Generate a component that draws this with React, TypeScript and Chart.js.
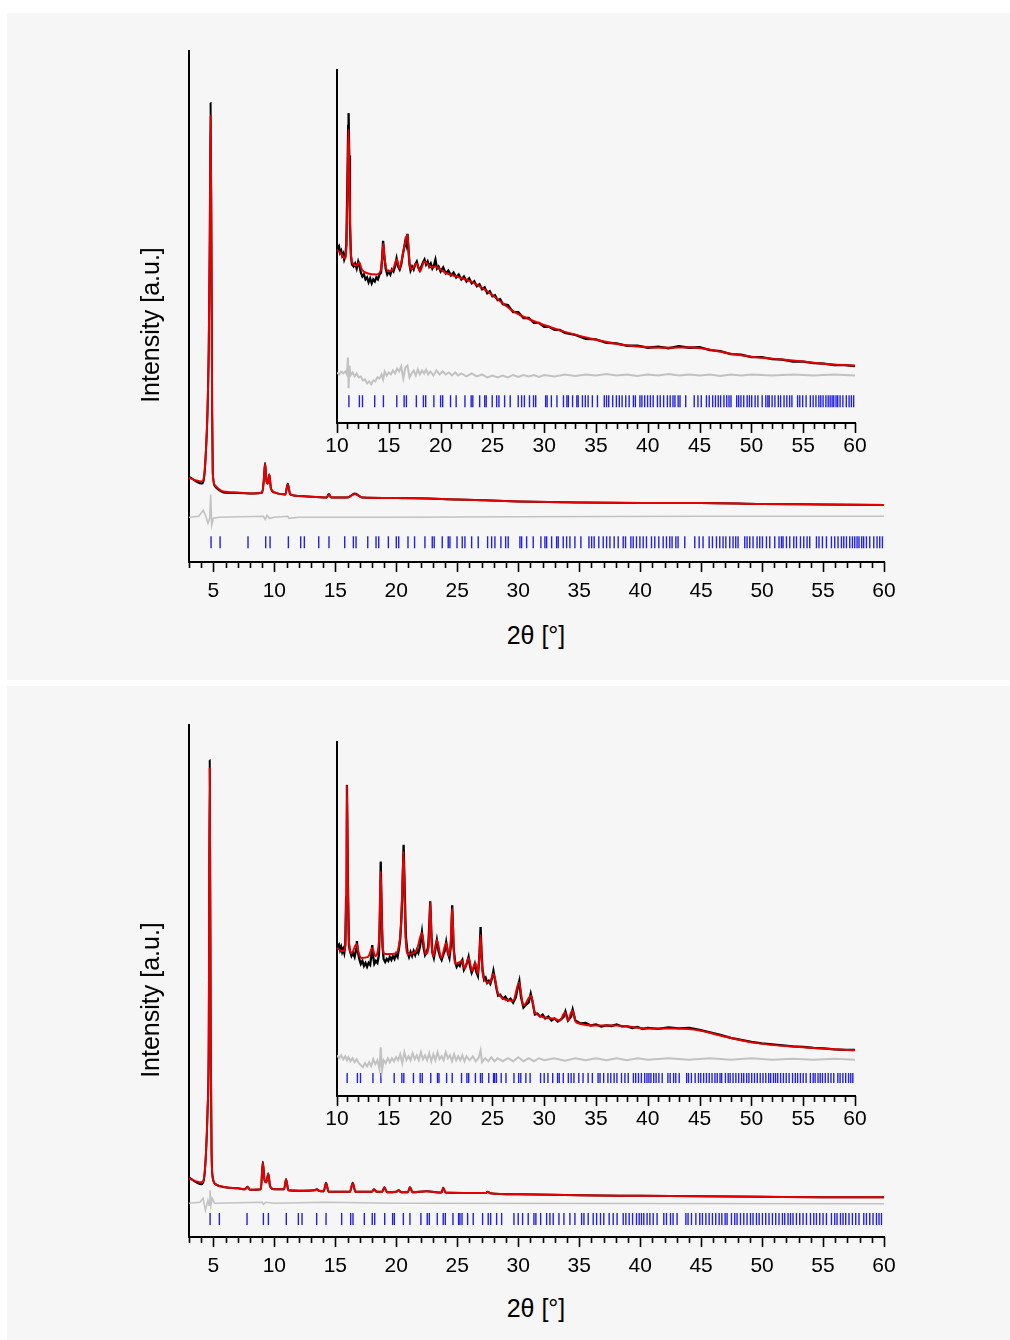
import React, { useEffect, useRef } from "react";
import { Chart, registerables } from "chart.js";

Chart.register(...registerables);

type Pt = [number, number];

// ---------------- DATA ----------------
const mainTickLabels = [5, 10, 15, 20, 25, 30, 35, 40, 45, 50, 55, 60];
const insetTickLabels = [10, 15, 20, 25, 30, 35, 40, 45, 50, 55, 60];
const yTitle = "Intensity [a.u.]";
const xTitle = "2θ [°]";

// Panel 1 (top), main plot
const p1MainCalc: Pt[] = [
  [3.0, 85], [3.6, 82], [4.05, 81], [4.26, 89], [4.4, 115], [4.51, 149], [4.62, 215], [4.7, 315],
  [4.77, 449], [4.84, 315], [4.9, 149], [4.95, 89], [5.14, 77], [5.5, 73], [5.82, 71], [7, 70],
  [8.28, 69], [9.0, 70], [9.12, 80], [9.24, 99], [9.36, 81], [9.46, 79], [9.59, 88], [9.72, 74],
  [10.0, 70], [10.9, 68], [11.1, 78], [11.3, 68], [12, 66.5], [14.3, 65], [14.47, 68], [14.65, 65],
  [16.0, 65], [16.6, 68.5], [17.2, 65], [20, 64.5], [25, 63], [30, 61], [35, 60], [40, 59.5],
  [45, 59.5], [50, 58.5], [55, 58], [60, 57.5],
];
const p1MainObs: Pt[] = [
  [3.0, 86], [3.6, 81], [4.05, 79], [4.26, 87], [4.4, 114], [4.51, 148], [4.62, 214], [4.7, 320],
  [4.77, 462], [4.84, 320], [4.9, 150], [4.95, 90], [5.14, 76], [5.5, 72], [5.82, 70], [7, 69.5],
  [8.28, 69], [9.0, 70], [9.12, 80], [9.24, 100], [9.36, 81], [9.46, 79], [9.59, 88], [9.72, 74],
  [10.0, 70], [10.9, 68], [11.1, 79], [11.3, 68], [12, 66.5], [14.3, 65], [14.47, 68.5], [14.65, 65],
  [16.0, 65], [16.6, 69], [17.2, 65], [20, 64.5], [25, 63], [30, 61], [35, 60], [40, 59.5],
  [45, 59.5], [50, 58.5], [55, 58], [60, 57.5],
];
const p1MainDiff: Pt[] = [
  [3, 45], [3.8, 46], [4.17, 52], [4.35, 47], [4.56, 39], [4.7, 44], [4.78, 68], [4.86, 37],
  [5.0, 44], [5.5, 45], [9.1, 46], [9.25, 43], [9.4, 47], [9.6, 44], [10, 45], [11.1, 46],
  [11.2, 44], [12, 45], [20, 45], [30, 45.5], [45, 46], [60, 46],
];

// Panel 1 inset
const p1InsetCalc: Pt[] = [
  [10.0, 175], [10.4, 171], [10.77, 166], [10.95, 193], [11.05, 263], [11.12, 296], [11.2, 253],
  [11.3, 183], [11.45, 163], [11.9, 159], [12.15, 162], [12.4, 155], [13.0, 151], [13.8, 150],
  [14.25, 155], [14.4, 173], [14.48, 181], [14.6, 165], [14.96, 153], [15.4, 155], [15.77, 165],
  [16.05, 156], [16.4, 173], [16.6, 183], [16.8, 190], [17.0, 161], [17.15, 155], [17.7, 161],
  [18.0, 153], [18.44, 163], [18.8, 160], [19.1, 157], [19.5, 158], [20.0, 155], [20.6, 151],
  [21.5, 148], [22.9, 143], [24.5, 133], [25.5, 125], [27, 113], [28.5, 105], [30, 99], [32, 92],
  [35, 84], [37.5, 79], [40, 76.5], [42, 76], [44, 76.5], [46, 74], [48, 70], [50, 67], [52, 65],
  [55, 62], [58, 59], [60, 58],
];
const p1InsetObs: Pt[] = [
  [10.0, 181], [10.1, 176], [10.2, 178], [10.3, 172], [10.4, 174], [10.5, 169], [10.6, 171],
  [10.7, 165], [10.8, 168], [10.9, 180], [11.0, 240], [11.08, 300], [11.12, 313], [11.18, 270],
  [11.25, 200], [11.35, 168], [11.45, 160], [11.6, 158], [11.75, 161], [11.9, 156], [12.05, 163],
  [12.15, 160], [12.3, 152], [12.45, 148], [12.6, 150], [12.75, 145], [12.9, 147], [13.05, 142],
  [13.2, 146], [13.35, 141], [13.5, 145], [13.65, 143], [13.8, 147], [13.95, 145], [14.1, 150],
  [14.25, 152], [14.35, 165], [14.45, 184], [14.55, 170], [14.7, 156], [14.85, 150], [15.0, 153],
  [15.15, 150], [15.3, 155], [15.45, 153], [15.6, 158], [15.75, 166], [15.9, 158], [16.05, 155],
  [16.2, 160], [16.35, 170], [16.5, 178], [16.6, 184], [16.7, 180], [16.8, 191], [16.9, 175],
  [17.0, 160], [17.1, 154], [17.25, 158], [17.4, 155], [17.55, 160], [17.7, 163], [17.85, 157],
  [18.0, 154], [18.15, 158], [18.3, 162], [18.45, 165], [18.6, 160], [18.75, 163], [18.9, 158],
  [19.05, 161], [19.2, 156], [19.35, 159], [19.5, 165], [19.65, 156], [19.8, 158], [20.0, 153],
  [20.25, 157], [20.5, 151], [20.75, 154], [21.0, 149], [21.25, 152], [21.5, 147], [21.75, 150],
  [22.0, 145], [22.25, 148], [22.5, 143], [22.75, 146], [23.0, 141], [23.25, 143], [23.5, 138],
  [23.75, 140], [24.0, 135], [24.25, 137], [24.5, 131], [24.75, 133], [25.0, 128], [25.25, 129],
  [25.5, 124], [25.75, 125], [26.0, 120], [26.5, 119], [27.0, 112], [27.5, 112], [28.0, 106],
  [28.5, 106], [29.0, 101], [29.5, 101], [30.0, 97], [30.5, 97], [31.0, 94], [31.5, 94], [32.0, 91],
  [33, 89], [34, 85], [35, 84.5], [36, 81], [37, 80.5], [38, 78], [39, 78], [40, 76], [41, 77],
  [42, 75.5], [43, 77.5], [44, 76], [45, 76.5], [46, 73.5], [47, 72.5], [48, 69.5], [49, 69],
  [50, 66.5], [51, 66.5], [52, 64.5], [53, 64], [54, 62], [55, 62], [56, 60.5], [57, 60],
  [58, 58.5], [59, 58.5], [60, 57.5],
];
const p1InsetDiff: Pt[] = [
  [10.0, 51], [10.2, 49], [10.4, 52], [10.6, 50], [10.8, 52], [10.95, 49], [11.05, 66], [11.12, 35],
  [11.2, 58], [11.3, 48], [11.5, 51], [11.7, 47], [11.9, 50], [12.1, 46], [12.3, 47], [12.5, 43],
  [12.7, 44], [12.9, 40], [13.1, 42], [13.3, 39], [13.5, 43], [13.7, 42], [13.9, 46], [14.1, 45],
  [14.3, 49], [14.45, 44], [14.6, 52], [14.8, 48], [15.0, 51], [15.2, 49], [15.4, 53], [15.6, 50],
  [15.8, 55], [16.0, 52], [16.2, 57], [16.4, 45], [16.6, 56], [16.8, 58], [17.0, 46], [17.2, 50],
  [17.4, 53], [17.6, 48], [17.8, 54], [18.0, 49], [18.2, 53], [18.4, 50], [18.6, 54], [18.8, 49],
  [19.0, 52], [19.3, 48], [19.6, 53], [19.9, 49], [20.2, 52], [20.5, 49], [20.8, 51], [21.1, 48],
  [21.4, 51], [21.7, 48], [22, 50], [22.5, 47], [23, 50], [23.5, 47], [24, 49], [24.5, 46],
  [25, 48], [25.5, 46], [26, 48], [26.5, 46], [27, 48.5], [27.5, 46.5], [28, 48.5], [28.5, 47],
  [29, 48.5], [29.5, 46.5], [30, 48.5], [31, 47], [32, 49], [33, 47.5], [34, 49], [35, 48],
  [36, 49.5], [37, 48], [38, 49], [39, 47.5], [40, 49], [41, 48], [42, 49.5], [43, 48], [44, 49],
  [45, 48], [46, 49], [47, 47.5], [48, 49], [49, 48], [50, 49], [52, 48], [54, 49], [56, 48],
  [58, 49], [60, 48],
];

const p1Reflections = [
  4.81, 5.55, 7.84, 9.29, 9.65, 11.15, 12.16, 12.46, 13.64, 14.48, 15.77, 16.48, 16.7, 17.66, 18.34,
  18.56, 19.35, 20.0, 20.2, 20.96, 21.5, 22.35, 22.95, 23.11, 23.77, 24.26, 24.4, 24.98, 25.41,
  25.63, 26.18, 26.72, 27.49, 27.82, 28.09, 28.58, 28.97, 29.18, 30.14, 30.28, 30.69, 31.23, 31.86,
  32.19, 32.33, 32.74, 33.15, 33.28, 33.69, 33.97, 34.24, 34.65, 35.14, 35.8, 36.02, 36.23, 36.61,
  36.97, 37.25, 37.52, 37.87, 38.2, 38.61, 38.8, 39.24, 39.43, 39.7, 39.98, 40.25, 40.52, 40.93,
  41.2, 41.53, 41.89, 42.16, 42.43, 42.62, 42.93, 43.11, 43.66, 44.48, 44.84, 45.16, 45.66, 45.93,
  46.26, 46.53, 46.8, 47.03, 47.35, 47.62, 47.84, 48.03, 48.58, 48.77, 48.99, 49.26, 49.59, 49.81,
  50.03, 50.36, 50.63, 51.04, 51.39, 51.59, 51.72, 52.0, 52.27, 52.6, 52.82, 53.15, 53.42, 53.69,
  53.91, 54.46, 54.67, 54.95, 55.28, 55.69, 55.96, 56.23, 56.51, 56.7, 56.92, 57.19, 57.41, 57.6,
  57.79, 57.95, 58.17, 58.33, 58.56, 58.83, 59.16, 59.43, 59.65, 59.87,
];

// Panel 2 (bottom), main plot
const p2MainCalc: Pt[] = [
  [3.0, 59], [3.6, 56], [4.05, 55], [4.25, 61], [4.4, 87], [4.52, 127], [4.62, 197], [4.7, 472],
  [4.78, 197], [4.85, 87], [4.95, 59], [5.2, 53], [6, 50], [7, 49], [7.6, 48], [7.79, 50.5],
  [8.0, 47.5], [8.9, 48], [9.05, 75], [9.2, 57], [9.35, 55], [9.5, 64], [9.65, 51], [10, 48],
  [10.8, 48], [10.96, 58], [11.15, 47], [12, 46.5], [13.3, 47], [13.47, 48], [13.65, 46.5],
  [14.05, 46], [14.24, 54], [14.45, 45.5], [16.2, 45.5], [16.43, 54], [16.65, 45.5], [18.0, 45.5],
  [18.17, 48], [18.4, 45.5], [18.85, 45.5], [19.02, 50], [19.25, 45], [20.0, 45.5], [20.2, 47],
  [20.4, 45], [20.95, 45], [21.12, 50], [21.35, 45], [22.5, 46], [23.7, 44.7], [23.85, 49],
  [24.05, 44.7], [25.5, 44.3], [27.35, 44.3], [27.5, 45.5], [27.7, 44], [30, 43], [35, 42],
  [40, 41.5], [45, 41], [50, 40.5], [55, 40], [60, 40],
];
const p2MainObs: Pt[] = [
  [3.0, 60], [3.6, 55], [4.05, 53], [4.25, 60], [4.4, 86], [4.52, 126], [4.62, 198], [4.7, 480],
  [4.78, 198], [4.85, 88], [4.95, 60], [5.2, 53], [6, 50], [7, 49], [7.6, 48], [7.79, 50.5],
  [8.0, 47.5], [8.9, 48], [9.05, 76], [9.2, 57], [9.35, 55], [9.5, 64], [9.65, 51], [10, 48],
  [10.8, 48], [10.96, 58.5], [11.15, 47], [12, 46.5], [13.3, 47], [13.47, 48], [13.65, 46.5],
  [14.05, 46], [14.24, 54.5], [14.45, 45.5], [16.2, 45.5], [16.43, 54.5], [16.65, 45.5],
  [18.0, 45.5], [18.17, 48], [18.4, 45.5], [18.85, 45.5], [19.02, 50], [19.25, 45], [20.0, 45.5],
  [20.2, 47], [20.4, 45], [20.95, 45], [21.12, 50], [21.35, 45], [22.5, 46], [23.7, 44.7],
  [23.85, 49.5], [24.05, 44.7], [25.5, 44.3], [27.35, 44.3], [27.5, 45.5], [27.7, 44], [30, 43],
  [35, 42], [40, 41.5], [45, 41], [50, 40.5], [55, 40], [60, 40],
];
const p2MainDiff: Pt[] = [
  [3, 34], [3.9, 35], [4.15, 39], [4.35, 27], [4.55, 37], [4.65, 32], [4.72, 47], [4.8, 32],
  [4.9, 39], [5.1, 34], [9, 35], [9.1, 33], [9.3, 35], [10, 34], [14.2, 35], [20, 34], [60, 33.5],
];

// Panel 2 inset
const p2InsetCalc: Pt[] = [
  [10.0, 149], [10.5, 146], [10.75, 146], [10.88, 196], [10.96, 313], [11.05, 216], [11.15, 156],
  [11.4, 144], [11.9, 153], [12.1, 144], [12.35, 139], [13.0, 140], [13.4, 149], [13.7, 141],
  [14.05, 156], [14.22, 226], [14.38, 156], [14.6, 143], [15.3, 143], [15.73, 144], [16.05, 156],
  [16.2, 176], [16.43, 246], [16.6, 166], [16.85, 143], [17.66, 146], [18.2, 164], [18.55, 143],
  [18.85, 151], [19.0, 195], [19.15, 151], [19.3, 141], [19.64, 157], [20.06, 139], [20.54, 154],
  [20.8, 141], [20.98, 156], [21.12, 189], [21.28, 146], [21.5, 133], [22.08, 136], [22.3, 128],
  [22.7, 139], [23.05, 126], [23.37, 134], [23.6, 123], [23.75, 141], [23.86, 162], [24.0, 131],
  [24.15, 119], [24.73, 114], [25.1, 123], [25.55, 103], [27.0, 96], [27.57, 114], [27.99, 91],
  [28.73, 101], [29.1, 84], [30.9, 78], [31.5, 76], [32.0, 84], [32.3, 76], [32.7, 86], [33.1, 74],
  [35, 71], [37, 71], [40, 68], [43, 68], [45, 66], [47, 61], [50, 54], [55, 49], [60, 46],
];
const p2InsetObs: Pt[] = [
  [10.0, 154], [10.1, 150], [10.2, 152], [10.3, 147], [10.4, 150], [10.5, 145], [10.6, 148],
  [10.7, 144], [10.8, 152], [10.88, 200], [10.96, 313], [11.05, 214], [11.15, 152], [11.25, 146],
  [11.4, 141], [11.55, 144], [11.7, 140], [11.85, 148], [11.92, 156], [12.0, 146], [12.15, 138],
  [12.3, 133], [12.45, 136], [12.6, 131], [12.75, 134], [12.9, 130], [13.05, 134], [13.2, 132],
  [13.3, 140], [13.4, 152], [13.5, 140], [13.6, 133], [13.75, 136], [13.9, 134], [14.05, 142],
  [14.15, 180], [14.22, 236], [14.3, 190], [14.4, 150], [14.5, 138], [14.65, 135], [14.8, 138],
  [14.95, 136], [15.1, 140], [15.25, 137], [15.4, 141], [15.55, 138], [15.7, 143], [15.85, 140],
  [16.0, 150], [16.1, 158], [16.2, 176], [16.3, 200], [16.43, 253], [16.55, 200], [16.65, 160],
  [16.8, 145], [16.95, 140], [17.1, 145], [17.25, 141], [17.4, 146], [17.55, 142], [17.7, 147],
  [17.85, 144], [18.0, 150], [18.2, 165], [18.35, 150], [18.5, 142], [18.65, 145], [18.8, 150],
  [18.9, 170], [19.0, 196], [19.1, 165], [19.2, 145], [19.35, 139], [19.5, 148], [19.64, 157],
  [19.8, 146], [19.95, 140], [20.1, 137], [20.25, 142], [20.4, 146], [20.54, 155], [20.7, 144],
  [20.85, 139], [21.0, 152], [21.12, 192], [21.25, 150], [21.4, 135], [21.55, 130], [21.7, 133],
  [21.85, 131], [22.0, 135], [22.1, 137], [22.25, 127], [22.4, 130], [22.55, 134], [22.7, 140],
  [22.85, 130], [23.0, 124], [23.15, 128], [23.3, 133], [23.45, 125], [23.6, 121], [23.75, 142],
  [23.86, 170], [23.95, 145], [24.05, 127], [24.2, 117], [24.35, 119], [24.5, 114], [24.65, 116],
  [24.8, 113], [24.95, 118], [25.1, 126], [25.25, 117], [25.4, 108], [25.55, 101], [25.75, 102],
  [26.0, 98], [26.25, 100], [26.5, 96], [26.75, 98], [27.0, 94], [27.25, 99], [27.5, 112],
  [27.6, 116], [27.75, 100], [28.0, 89], [28.25, 92], [28.5, 94], [28.7, 103], [28.85, 96],
  [29.1, 82], [29.35, 83], [29.6, 80], [29.85, 82], [30.1, 78], [30.4, 80], [30.7, 76], [31.0, 78],
  [31.3, 75], [31.6, 77], [31.9, 80], [32.05, 85], [32.3, 76], [32.6, 80], [32.75, 87], [33.0, 76],
  [33.5, 73], [34, 73.5], [34.5, 71], [35, 72], [35.5, 70], [36, 71], [36.5, 70.5], [37, 72],
  [37.5, 70], [38, 70], [38.5, 68.5], [39, 69.5], [39.5, 67.5], [40, 68.5], [41, 67.5], [42, 69],
  [43, 68], [44, 68.5], [45, 66.5], [46, 64], [47, 61.5], [48, 58.5], [49, 56.5], [50, 54.5],
  [51, 53], [52, 52], [53, 51], [54, 50], [55, 49.5], [56, 48.5], [57, 48], [58, 47], [59, 46.5],
  [60, 46.5],
];
const p2InsetDiff: Pt[] = [
  [10, 41], [10.2, 38], [10.4, 41], [10.6, 37], [10.8, 40], [10.96, 36], [11.1, 39], [11.3, 35],
  [11.5, 38], [11.7, 34], [11.9, 37], [12.1, 33], [12.3, 31], [12.5, 29], [12.7, 33], [12.9, 30],
  [13.1, 34], [13.3, 30], [13.5, 37], [13.7, 32], [13.9, 36], [14.1, 27], [14.22, 49], [14.35, 26],
  [14.5, 36], [14.7, 33], [14.9, 38], [15.1, 34], [15.3, 38], [15.5, 35], [15.7, 39], [15.9, 36],
  [16.1, 42], [16.3, 33], [16.5, 44], [16.7, 36], [16.9, 40], [17.1, 36], [17.3, 43], [17.5, 37],
  [17.7, 41], [17.9, 36], [18.1, 44], [18.3, 37], [18.5, 41], [18.7, 36], [18.9, 43], [19.1, 35],
  [19.3, 42], [19.5, 36], [19.7, 44], [19.9, 37], [20.1, 40], [20.3, 36], [20.5, 44], [20.7, 38],
  [20.9, 41], [21.1, 35], [21.3, 42], [21.5, 36], [21.7, 40], [21.9, 36], [22.1, 41], [22.3, 35],
  [22.5, 40], [22.8, 36], [23.1, 40], [23.4, 35], [23.7, 39], [23.86, 46], [24, 34], [24.3, 38],
  [24.6, 35], [24.9, 39], [25.2, 35], [25.5, 38], [26, 35], [26.5, 38], [27, 35], [27.5, 39],
  [28, 35], [28.5, 38], [29, 35], [29.5, 38], [30, 36], [31, 38], [32, 35.5], [33, 38], [34, 36],
  [35, 38], [36, 36], [37, 38], [38, 36], [39, 38], [40, 36.5], [42, 38], [44, 36.5], [46, 38],
  [48, 36.5], [50, 38], [52, 36.5], [54, 37.5], [56, 36.5], [58, 37.5], [60, 36.5],
];

const p2Reflections = [
  4.73, 5.49, 7.76, 9.1, 9.51, 10.98, 11.97, 12.27, 13.47, 14.24, 15.52, 16.26, 16.45, 17.38, 18.03,
  18.23, 19.05, 19.7, 19.84, 20.58, 21.12, 22.02, 22.54, 22.71, 23.36, 23.85, 24.02, 24.65, 25.11,
  25.22, 25.39, 25.85, 26.31, 27.08, 27.54, 27.74, 28.23, 28.64, 29.65, 30.0, 30.36, 30.82, 31.29,
  31.45, 31.84, 32.33, 32.6, 32.87, 33.34, 33.75, 34.24, 34.65, 35.2, 35.39, 35.74, 36.15, 36.43,
  36.75, 37.02, 37.46, 37.79, 38.11, 38.61, 38.83, 39.1, 39.38, 39.7, 39.92, 40.11, 40.3, 40.57,
  40.8, 41.07, 41.39, 41.94, 42.16, 42.49, 42.7, 43.03, 43.75, 43.93, 44.21, 44.57, 44.89, 45.11,
  45.39, 45.66, 45.93, 46.2, 46.48, 46.7, 46.97, 47.13, 47.49, 47.76, 47.95, 48.23, 48.5, 48.77,
  49.05, 49.26, 49.54, 49.76, 50.03, 50.3, 50.57, 50.85, 51.12, 51.39, 51.67, 51.86, 52.13, 52.33,
  52.54, 52.82, 53.09, 53.36, 53.64, 53.97, 54.24, 54.46, 54.73, 55.0, 55.28, 55.69, 55.96, 56.15,
  56.43, 56.64, 56.86, 57.13, 57.41, 57.68, 57.95, 58.34, 58.56, 58.83, 59.1, 59.38, 59.59, 59.79,
];

// ---------------- LAYOUT / STYLE ----------------
const FONT = "'Liberation Sans', Arial, Helvetica, sans-serif";
const PAD_L = 34;
const PAD_R = 30;
const PAD_T = 4;
const PAD_B = 4;
const X_AXIS_H = 46;
const RED = "#e60000";
const BLACK = "#000000";
const GREY = "#c2c2c2";
const BLUE = "#2222dd";

type Frame = { left: number; top: number; right: number; bottom: number };
type PlotSpec = {
  frame: Frame;
  xMin: number;
  xMax: number;
  yMax: number;
  labels: number[];
  labelPad: number;
  calc: Pt[];
  obs: Pt[];
  diff: Pt[];
  refl: number[];
  reflLevel: number;
  reflHalf: number;
  obsSmooth: boolean;
  obsWidth: number;
  diffWidth: number;
};

const tickMarksPlugin = {
  id: "tickMarks",
  afterDraw(chart: any) {
    const sx = chart.scales.x;
    const { ctx, chartArea } = chart;
    ctx.save();
    ctx.strokeStyle = "#000";
    ctx.lineWidth = 1.6;
    for (let v = Math.ceil(sx.min); v <= sx.max + 1e-9; v++) {
      const x = Math.round(sx.getPixelForValue(v)) + 0.5;
      const len = v % 5 === 0 ? 10 : 6;
      ctx.beginPath();
      ctx.moveTo(x, chartArea.bottom);
      ctx.lineTo(x, chartArea.bottom + len);
      ctx.stroke();
    }
    ctx.restore();
  },
};

const toXY = (pts: Pt[]) => pts.map(([x, y]) => ({ x, y }));

function buildConfig(s: PlotSpec): any {
  return {
    type: "line",
    data: {
      datasets: [
        {
          data: toXY(s.calc),
          borderColor: RED,
          borderWidth: 2,
          pointRadius: 0,
          cubicInterpolationMode: "monotone",
          fill: false,
        },
        {
          data: toXY(s.obs),
          borderColor: BLACK,
          borderWidth: s.obsWidth,
          pointRadius: 0,
          tension: 0,
          cubicInterpolationMode: s.obsSmooth ? "monotone" : "default",
          fill: false,
        },
        {
          data: toXY(s.diff),
          borderColor: GREY,
          borderWidth: s.diffWidth,
          pointRadius: 0,
          tension: 0,
          fill: false,
        },
        {
          data: s.refl.filter((v) => v >= s.xMin && v <= s.xMax).map((x) => ({ x, y: s.reflLevel })),
          showLine: false,
          pointStyle: "line",
          pointRotation: 90,
          pointRadius: s.reflHalf,
          pointBorderColor: BLUE,
          pointBorderWidth: 1.4,
          borderColor: BLUE,
        },
      ],
    },
    options: {
      responsive: false,
      animation: false,
      devicePixelRatio: 1,
      events: [],
      layout: { padding: { left: PAD_L, right: PAD_R, top: PAD_T, bottom: PAD_B } },
      plugins: { legend: { display: false }, tooltip: { enabled: false } },
      scales: {
        x: {
          type: "linear",
          min: s.xMin,
          max: s.xMax,
          afterFit: (sc: any) => {
            sc.height = X_AXIS_H;
          },
          afterBuildTicks: (sc: any) => {
            sc.ticks = s.labels.map((v) => ({ value: v }));
          },
          grid: { display: true, drawOnChartArea: false, drawTicks: false },
          border: { display: true, color: "#000", width: 2 },
          ticks: {
            color: "#000",
            font: { family: FONT, size: 21 },
            padding: s.labelPad,
            maxRotation: 0,
            autoSkip: false,
            callback: (v: any) => String(v),
          },
        },
        y: {
          type: "linear",
          min: 0,
          max: s.yMax,
          afterFit: (sc: any) => {
            sc.width = 0;
          },
          ticks: { display: false },
          grid: { display: false },
          border: { display: true, color: "#000", width: 2 },
        },
      },
    },
    plugins: [tickMarksPlugin],
  };
}

function Plot({ spec }: { spec: PlotSpec }) {
  const ref = useRef<HTMLCanvasElement>(null);
  const { frame } = spec;
  const w = frame.right - frame.left + PAD_L + PAD_R;
  const h = frame.bottom - frame.top + PAD_T + X_AXIS_H + PAD_B;
  useEffect(() => {
    if (!ref.current) return;
    const chart = new Chart(ref.current, buildConfig(spec));
    return () => chart.destroy();
  }, [spec]);
  return (
    <canvas
      ref={ref}
      width={w}
      height={h}
      style={{ position: "absolute", left: frame.left - PAD_L, top: frame.top - PAD_T, width: w, height: h }}
    />
  );
}

const specs: PlotSpec[] = [
  {
    frame: { left: 189, top: 48, right: 884, bottom: 562 },
    xMin: 3, xMax: 60, yMax: 514, labels: mainTickLabels, labelPad: 17,
    calc: p1MainCalc, obs: p1MainObs, diff: p1MainDiff, refl: p1Reflections,
    reflLevel: 20, reflHalf: 6, obsSmooth: true, obsWidth: 2, diffWidth: 1.6,
  },
  {
    frame: { left: 337, top: 67, right: 855, bottom: 423 },
    xMin: 10, xMax: 60, yMax: 356, labels: insetTickLabels, labelPad: 11,
    calc: p1InsetCalc, obs: p1InsetObs, diff: p1InsetDiff, refl: p1Reflections,
    reflLevel: 22, reflHalf: 6, obsSmooth: false, obsWidth: 2.3, diffWidth: 2,
  },
  {
    frame: { left: 189, top: 722, right: 884, bottom: 1237 },
    xMin: 3, xMax: 60, yMax: 515, labels: mainTickLabels, labelPad: 17,
    calc: p2MainCalc, obs: p2MainObs, diff: p2MainDiff, refl: p2Reflections,
    reflLevel: 18, reflHalf: 6, obsSmooth: true, obsWidth: 2, diffWidth: 1.6,
  },
  {
    frame: { left: 337, top: 740, right: 855, bottom: 1096 },
    xMin: 10, xMax: 60, yMax: 356, labels: insetTickLabels, labelPad: 11,
    calc: p2InsetCalc, obs: p2InsetObs, diff: p2InsetDiff, refl: p2Reflections,
    reflLevel: 18, reflHalf: 5, obsSmooth: false, obsWidth: 2.3, diffWidth: 2,
  },
];

const titleBase: React.CSSProperties = {
  position: "absolute",
  fontFamily: FONT,
  fontSize: 25,
  lineHeight: "30px",
  color: "#000",
  whiteSpace: "nowrap",
  textAlign: "center",
  width: 300,
};

function YTitle({ cx, cy }: { cx: number; cy: number }) {
  return (
    <div style={{ ...titleBase, left: cx - 150, top: cy - 15, transform: "rotate(-90deg)", transformOrigin: "50% 50%" }}>
      {yTitle}
    </div>
  );
}
function XTitle({ cx, cy }: { cx: number; cy: number }) {
  return <div style={{ ...titleBase, left: cx - 150, top: cy - 15 }}>{xTitle}</div>;
}

export default function App() {
  return (
    <div style={{ position: "absolute", left: 0, top: 0, width: 1010, height: 1340, background: "#fff", overflow: "hidden" }}>
      <div style={{ position: "absolute", left: 7, top: 13, width: 1003, height: 667, background: "#f6f6f6" }} />
      <div style={{ position: "absolute", left: 7, top: 686, width: 1003, height: 654, background: "#f6f6f6" }} />
      {specs.map((s, i) => (
        <Plot key={i} spec={s} />
      ))}
      <YTitle cx={150} cy={325} />
      <XTitle cx={536} cy={635} />
      <YTitle cx={150} cy={1000} />
      <XTitle cx={536} cy={1308} />
    </div>
  );
}
